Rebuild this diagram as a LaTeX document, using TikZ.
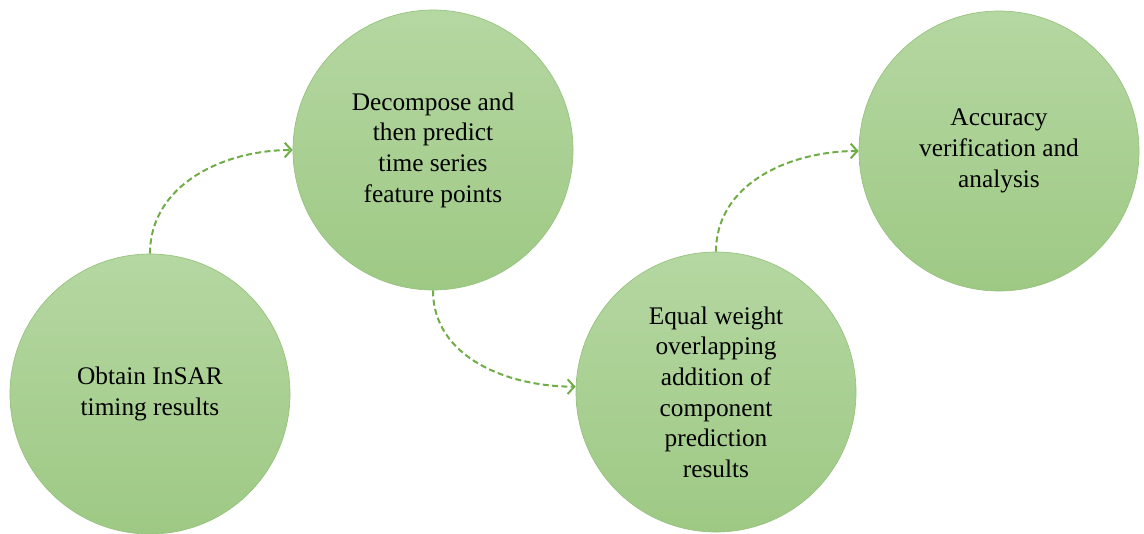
\documentclass[tikz,border=0pt]{standalone}
\usepackage{fontspec}
\setmainfont{Liberation Serif}
\newfontfamily\stepfont{Liberation Serif}
\usetikzlibrary{arrows.meta}

\definecolor{stepTop}{RGB}{181,215,162}
\definecolor{stepBottom}{RGB}{158,201,132}
\definecolor{stepEdge}{RGB}{150,194,124}
\definecolor{flowGreen}{RGB}{112,173,71}

\tikzset{every picture/.style={line width=0.75pt}}
\tikzset{
  stepcircle/.style={circle, draw=stepEdge, line width=0.5pt, top color=stepTop, bottom color=stepBottom,
    minimum size=210pt, inner sep=0pt, align=center, text=black,
    font=\stepfont\fontsize{19}{23}\selectfont},
  flowarrow/.style={draw=flowGreen, line width=1.5pt, dash pattern=on 4.5pt off 2.5pt,
    -{Straight Barb[length=5pt,width=11pt,line width=1.5pt]}}
}

\begin{document}
\begin{tikzpicture}[x=0.75pt,y=0.75pt,yscale=-1,xscale=1]
\useasboundingbox (0,0) rectangle (1144,533);

% Text Node
\node [stepcircle] (obtain) at (150,394) {Obtain InSAR\\timing results};
% Text Node
\node [stepcircle] (decompose) at (433,150) {Decompose and\\then predict\\time series\\feature points};
% Text Node
\node [stepcircle] (equal) at (716,392) {Equal weight\\overlapping\\addition of\\component\\prediction\\results};
% Text Node
\node [stepcircle] (accuracy) at (999,151) {Accuracy\\verification and\\analysis};

% Connection
\draw [flowarrow] (obtain.north) to[out=-90,in=180] (decompose.west);
% Connection
\draw [flowarrow] (decompose.south) to[out=90,in=180] ([yshift=-4pt]equal.west);
% Connection
\draw [flowarrow] (equal.north) to[out=-90,in=180] (accuracy.west);

\end{tikzpicture}
\end{document}
